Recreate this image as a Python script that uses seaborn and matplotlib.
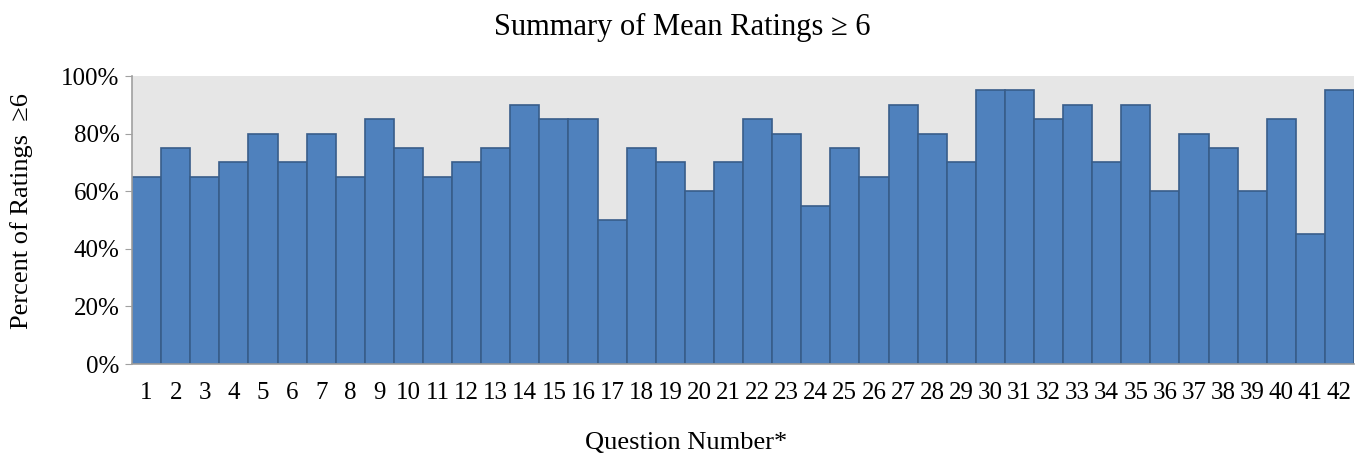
import numpy as np
import pandas as pd
import matplotlib
matplotlib.use("Agg")
import matplotlib.pyplot as plt
import seaborn as sns

questions = [str(i) for i in range(1, 43)]
pct_ge6 = [65, 75, 65, 70, 80, 70, 80, 65, 85, 75,
           65, 70, 75, 90, 85, 85, 50, 75, 70, 60,
           70, 85, 80, 55, 75, 65, 90, 80, 70, 95,
           95, 85, 90, 70, 90, 60, 80, 75, 60, 85,
           45, 95]
yticks = [0, 20, 40, 60, 80, 100]

df = pd.DataFrame({"question": questions, "pct": pct_ge6})

sns.set_style("white")
plt.rcParams["font.family"] = ["Liberation Serif", "DejaVu Serif"]
plt.rcParams["text.color"] = "black"
plt.rcParams["xtick.labelcolor"] = "black"
plt.rcParams["ytick.labelcolor"] = "black"

fig = plt.figure(figsize=(13.64, 4.61), dpi=100)
ax = fig.add_axes([0.0968, 0.2104, 0.8959, 0.6246])

sns.barplot(data=df, x="question", y="pct", color="#4f81bd", saturation=1,
            width=1.0, edgecolor="#385d8a", linewidth=1.2, ax=ax)

ax.set_facecolor("#e6e6e6")
ax.set_xlim(-0.5, len(questions) - 0.5)
ax.set_ylim(0, 100)
ax.set_yticks(yticks)
ax.set_yticklabels([f"{v}%" for v in yticks], fontsize=18)

# tick marks sit on the bar boundaries, labels centred under bars
ax.set_xticks(np.arange(len(questions)))
ax.set_xticklabels(questions, fontsize=18)
ax.tick_params(axis="x", length=0, pad=13)
ax.set_xticks(np.arange(len(questions) + 1) - 0.5, minor=True)
ax.tick_params(axis="x", which="minor", length=5, color="#a0a0a0", direction="out")
ax.tick_params(axis="y", length=5, color="#a0a0a0", direction="out", left=True, pad=4)

for side in ["top", "right"]:
    ax.spines[side].set_visible(False)
for side in ["left", "bottom"]:
    ax.spines[side].set_color("#a0a0a0")
    ax.spines[side].set_linewidth(1.2)

ax.set_xlabel("")
ax.set_ylabel("Percent of Ratings  \u22656", fontsize=19, color="black")
ax.yaxis.set_label_coords(-0.081, 0.53)

fig.text(0.5, 1 - 27 / 461, "Summary of Mean Ratings \u2265 6", fontsize=22,
         ha="center", va="center")
fig.text(0.503, 1 - 443 / 461, "Question Number*", fontsize=19,
         ha="center", va="center")

fig.savefig("out.png", dpi=100)
